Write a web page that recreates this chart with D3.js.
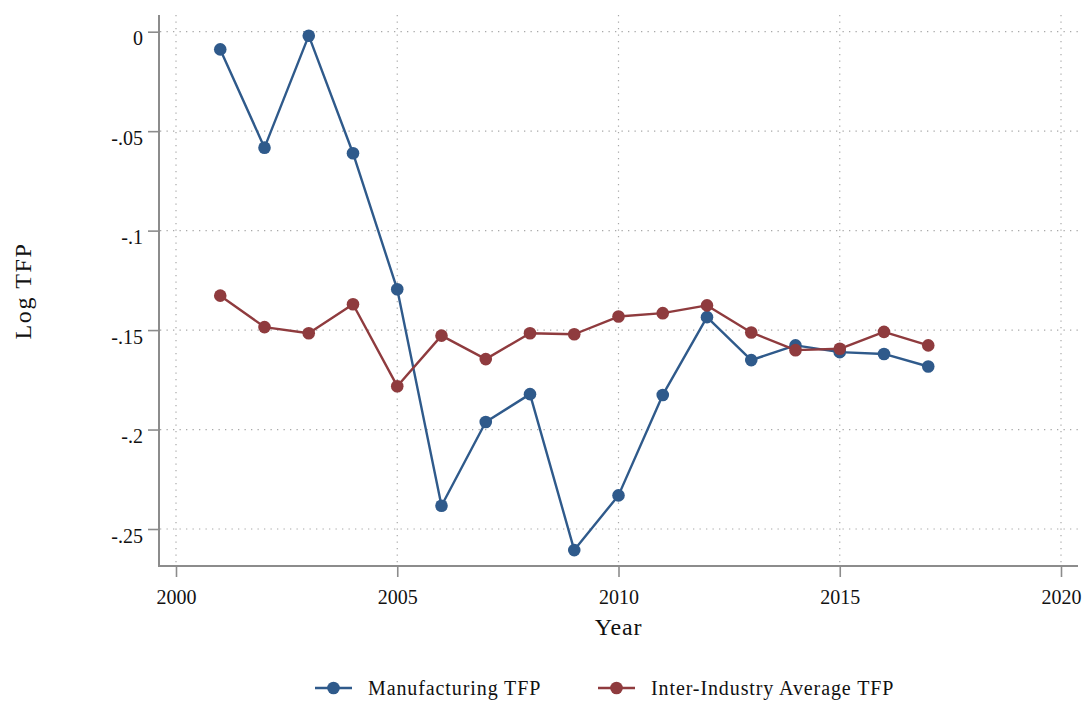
<!DOCTYPE html>
<html>
<head>
<meta charset="utf-8">
<script src="https://cdn.jsdelivr.net/npm/d3@7"></script>
<style>
  html, body { margin: 0; padding: 0; background: #fff; }
  svg { display: block; }
  text { font-family: "Liberation Serif", "Times New Roman", serif; fill: #111; }
</style>
</head>
<body>
<svg id="chart" width="1083" height="702"></svg>
<script>
// Years and log TFP series
const years = [2001, 2002, 2003, 2004, 2005, 2006, 2007, 2008, 2009,
               2010, 2011, 2012, 2013, 2014, 2015, 2016, 2017];
const manufacturingTFP = [-0.0089, -0.0583, -0.0020, -0.0611, -0.1295, -0.2383,
                          -0.1962, -0.1822, -0.2606, -0.2331, -0.1826, -0.1435,
                          -0.1651, -0.1577, -0.1611, -0.1620, -0.1683];
const interIndustryTFP = [-0.1327, -0.1485, -0.1516, -0.1370, -0.1782, -0.1528,
                          -0.1646, -0.1516, -0.1521, -0.1432, -0.1415, -0.1376,
                          -0.1512, -0.1601, -0.1594, -0.1509, -0.1577];
const xTicks = [2000, 2005, 2010, 2015, 2020];
const yTicks = [0, -0.05, -0.1, -0.15, -0.2, -0.25];
const yTickLabels = ["0", "-.05", "-.1", "-.15", "-.2", "-.25"];
const seriesNames = ["Manufacturing TFP", "Inter-Industry Average TFP"];
const seriesColors = ["#2f5a8b", "#8f3b3e"];

const svg = d3.select("#chart");

// Plot region
const plotLeft = 159, plotRight = 1078, plotTop = 15, plotBottom = 566;

const x = d3.scaleLinear().domain([2000, 2020]).range([176, 1061]);
const y = d3.scaleLinear().domain([-0.25, 0]).range([529, 31.7]);

const axisColor = "#8c8c8c";
const gridColor = "#a8a8a8";

// Dotted grid
const grid = svg.append("g");
grid.selectAll("line.gy").data(yTicks).enter().append("line")
  .attr("x1", plotLeft + 1).attr("x2", plotRight)
  .attr("y1", d => y(d)).attr("y2", d => y(d))
  .attr("stroke", gridColor).attr("stroke-width", 1.2)
  .attr("stroke-dasharray", "1.3,5.2");
grid.selectAll("line.gx").data(xTicks).enter().append("line")
  .attr("x1", d => x(d)).attr("x2", d => x(d))
  .attr("y1", plotTop).attr("y2", plotBottom - 1)
  .attr("stroke", gridColor).attr("stroke-width", 1.2)
  .attr("stroke-dasharray", "1.3,5.2");

// Y axis
const yAxis = d3.axisLeft(y).tickValues(yTicks)
  .tickFormat((d, i) => yTickLabels[i]).tickSize(11).tickPadding(5);
const gy = svg.append("g").attr("transform", `translate(${plotLeft},0)`).call(yAxis);
gy.select(".domain").remove();
gy.selectAll(".tick line").attr("stroke", axisColor).attr("stroke-width", 1.6);
gy.selectAll(".tick text").attr("font-size", 20)
  .attr("font-family", "Liberation Serif, serif").attr("fill", "#111")
  .attr("dy", "0.65em");

// X axis
const xAxis = d3.axisBottom(x).tickValues(xTicks).tickFormat(d3.format("d"))
  .tickSize(11).tickPadding(13);
const gx = svg.append("g").attr("transform", `translate(0,${plotBottom})`).call(xAxis);
gx.select(".domain").remove();
gx.selectAll(".tick line").attr("stroke", axisColor).attr("stroke-width", 1.6);
gx.selectAll(".tick text").attr("font-size", 20)
  .attr("font-family", "Liberation Serif, serif").attr("fill", "#111");

// Axis lines
svg.append("line").attr("x1", plotLeft).attr("x2", plotLeft)
  .attr("y1", plotTop).attr("y2", plotBottom + 1)
  .attr("stroke", axisColor).attr("stroke-width", 2);
svg.append("line").attr("x1", plotLeft).attr("x2", plotRight)
  .attr("y1", plotBottom).attr("y2", plotBottom)
  .attr("stroke", axisColor).attr("stroke-width", 2);

// Axis titles
svg.append("text").attr("x", x(2010)).attr("y", 635)
  .attr("text-anchor", "middle").attr("font-size", 24)
  .attr("letter-spacing", 0.8).text("Year");
svg.append("text").attr("transform", "translate(31,291) rotate(-90)")
  .attr("text-anchor", "middle").attr("font-size", 24)
  .attr("letter-spacing", 1.6).text("Log TFP");

// Series
const series = [manufacturingTFP, interIndustryTFP];
const line = d3.line().x((d, i) => x(years[i])).y(d => y(d));
series.forEach((vals, k) => {
  const g = svg.append("g");
  g.append("path").datum(vals).attr("d", line)
    .attr("fill", "none").attr("stroke", seriesColors[k])
    .attr("stroke-width", 2.4).attr("stroke-linejoin", "round");
  g.selectAll("circle").data(vals).enter().append("circle")
    .attr("cx", (d, i) => x(years[i])).attr("cy", d => y(d))
    .attr("r", 6.3).attr("fill", seriesColors[k]);
});

// Legend
const legendItems = [
  { name: seriesNames[0], color: seriesColors[0], x0: 315 },
  { name: seriesNames[1], color: seriesColors[1], x0: 598 }
];
const legendY = 688;
legendItems.forEach(item => {
  const g = svg.append("g");
  g.append("line").attr("x1", item.x0).attr("x2", item.x0 + 37)
    .attr("y1", legendY).attr("y2", legendY)
    .attr("stroke", item.color).attr("stroke-width", 2.4);
  g.append("circle").attr("cx", item.x0 + 18.5).attr("cy", legendY)
    .attr("r", 6.3).attr("fill", item.color);
  g.append("text").attr("x", item.x0 + 53).attr("y", legendY + 7)
    .attr("font-size", 20).attr("letter-spacing", 0.9).text(item.name);
});
</script>
</body>
</html>
